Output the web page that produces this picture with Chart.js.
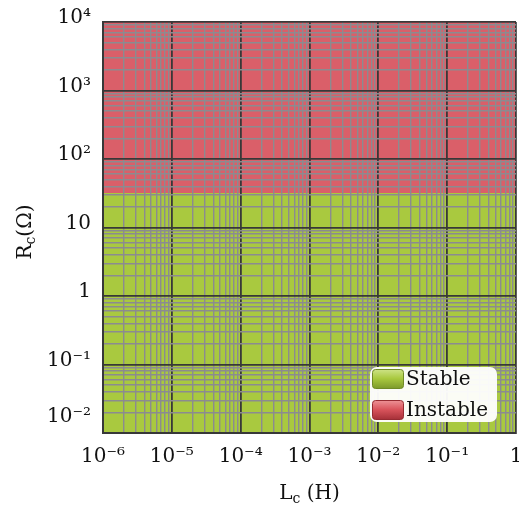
<!DOCTYPE html>
<html lang="en">
<head>
    <meta charset="UTF-8">
    <title>Rc vs Lc - stability</title>
    <script src="https://cdn.jsdelivr.net/npm/chart.js"></script>
    <style>
        body { margin: 0; background: #fff; }
    </style>
</head>
<body>
    <div style="width: 519px; height: 509px;">
        <canvas id="grafico"></canvas>
    </div>

    <script>
        // datos
        const xDecades = [1e-6, 1e-5, 1e-4, 1e-3, 1e-2, 1e-1, 1];
        const xTickLabels = ['10⁻⁶', '10⁻⁵', '10⁻⁴', '10⁻³', '10⁻²', '10⁻¹', '1'];
        const yDecades = [1e-2, 1e-1, 1, 10, 100, 1000, 10000];
        const yTickLabels = ['10⁻²', '10⁻¹', '1', '10', '10²', '10³', '10⁴'];
        const regionLabels = ['Stable', 'Instable'];
        const regionColors = ['#a9c93f', '#da5f69'];
        const xRange = [1e-6, 1];
        const rcLimit = 32;      // frontera estable / inestable
        const rcTop = 10000;

        const FONT = 'DejaVu Serif';

        function logTicks(decades) {
            const out = [];
            for (let i = 0; i < decades.length - 1; i++) {
                for (let k = 1; k <= 9; k++) {
                    out.push({ value: Number((k * decades[i]).toPrecision(12)) });
                }
            }
            out.push({ value: decades[decades.length - 1] });
            return out;
        }

        function isMajor(v) {
            const l = Math.log10(v);
            return Math.abs(l - Math.round(l)) < 1e-9;
        }

        function labelFor(value, decades, labels) {
            const i = decades.findIndex(d => Math.abs(Math.log10(d) - Math.log10(value)) < 1e-9);
            return i >= 0 ? labels[i] : '';
        }

        function gridOpts() {
            return {
                z: 1,
                drawTicks: false,
                color: c => (c.tick && isMajor(c.tick.value)) ? '#383838' : '#8b8b90',
                lineWidth: c => (c.tick && isMajor(c.tick.value)) ? 1.8 : 1.4
            };
        }

        // leyenda y titulos de ejes
        const extras = {
            id: 'extras',
            afterDraw(chart) {
                const ctx = chart.ctx;
                ctx.save();

                // titulos con subindice
                function subTitle(main, sub, rest) {
                    ctx.font = '20px ' + FONT;
                    const w1 = ctx.measureText(main).width;
                    const w3 = ctx.measureText(rest).width;
                    ctx.font = '14px ' + FONT;
                    const w2 = ctx.measureText(sub).width;
                    const total = w1 + w2 + w3;
                    let x = -total / 2;
                    ctx.textBaseline = 'middle';
                    ctx.textAlign = 'left';
                    ctx.fillStyle = '#111';
                    ctx.font = '20px ' + FONT;
                    ctx.fillText(main, x, 0);
                    x += w1;
                    ctx.font = '14px ' + FONT;
                    ctx.fillText(sub, x, 5);
                    x += w2;
                    ctx.font = '20px ' + FONT;
                    ctx.fillText(rest, x, 0);
                }

                const area = chart.chartArea;
                ctx.save();
                ctx.translate((area.left + area.right) / 2, 494);
                subTitle('L', 'c', ' (H)');
                ctx.restore();

                ctx.save();
                ctx.translate(26, 232);
                ctx.rotate(-Math.PI / 2);
                subTitle('R', 'c', '(Ω)');
                ctx.restore();

                // leyenda
                const bx = 370, by = 367, bw = 127, bh = 55;
                ctx.fillStyle = 'rgba(255,255,255,0.95)';
                ctx.beginPath();
                ctx.roundRect(bx, by, bw, bh, 7);
                ctx.fill();

                chart.data.datasets.forEach((ds, i) => {
                    const mx = 372, my = 369 + i * 31, mw = 31, mh = 19;
                    const g = ctx.createLinearGradient(0, my, 0, my + mh);
                    if (i === 0) {
                        g.addColorStop(0, '#cfe48a');
                        g.addColorStop(0.5, '#a9c93f');
                        g.addColorStop(1, '#7f9c2c');
                    } else {
                        g.addColorStop(0, '#ee9599');
                        g.addColorStop(0.5, '#d9545c');
                        g.addColorStop(1, '#a8323a');
                    }
                    ctx.fillStyle = g;
                    ctx.strokeStyle = i === 0 ? '#6f8a26' : '#962b32';
                    ctx.lineWidth = 1;
                    ctx.beginPath();
                    ctx.roundRect(mx + 0.5, my + 0.5, mw, mh, 3);
                    ctx.fill();
                    ctx.stroke();

                    ctx.fillStyle = '#111';
                    ctx.font = '20px ' + FONT;
                    ctx.textAlign = 'left';
                    ctx.textBaseline = 'middle';
                    ctx.fillText(ds.label, 406, my + mh / 2 + 1);
                });

                ctx.restore();
            }
        };

        const ctx = document.getElementById('grafico').getContext('2d');
        const grafico = new Chart(ctx, {
            type: 'line',
            data: {
                datasets: [{
                    label: regionLabels[0],
                    data: [{ x: xRange[0], y: rcLimit }, { x: xRange[1], y: rcLimit }],
                    backgroundColor: regionColors[0],
                    borderWidth: 0,
                    pointRadius: 0,
                    fill: 'start'
                }, {
                    label: regionLabels[1],
                    data: [{ x: xRange[0], y: rcTop }, { x: xRange[1], y: rcTop }],
                    backgroundColor: regionColors[1],
                    borderWidth: 0,
                    pointRadius: 0,
                    fill: '-1'
                }]
            },
            options: {
                responsive: true,
                maintainAspectRatio: false,
                animation: false,
                layout: { padding: { top: 22, right: 3, left: 0, bottom: 0 } },
                plugins: {
                    legend: { display: false },
                    tooltip: { enabled: false }
                },
                scales: {
                    x: {
                        type: 'logarithmic',
                        min: xDecades[0],
                        max: xDecades[xDecades.length - 1],
                        grid: gridOpts(),
                        border: { display: true, color: '#383838', width: 2, z: 2 },
                        afterBuildTicks: s => { s.ticks = logTicks(xDecades); },
                        afterFit: s => { s.height = 76; s.paddingLeft = 0; s.paddingRight = 0; },
                        ticks: {
                            autoSkip: false,
                            maxRotation: 0,
                            padding: 12,
                            color: '#111',
                            font: { family: FONT, size: 20 },
                            callback: v => labelFor(v, xDecades, xTickLabels)
                        }
                    },
                    y: {
                        type: 'logarithmic',
                        min: yDecades[0],
                        max: yDecades[yDecades.length - 1],
                        grid: gridOpts(),
                        border: { display: true, color: '#383838', width: 2, z: 2 },
                        afterBuildTicks: s => { s.ticks = logTicks(yDecades); },
                        afterFit: s => { s.width = 103; s.paddingTop = 0; s.paddingBottom = 0; },
                        ticks: {
                            autoSkip: false,
                            padding: 12,
                            labelOffset: -4,
                            color: '#111',
                            font: { family: FONT, size: 20 },
                            callback: v => {
                                const t = labelFor(v, yDecades, yTickLabels);
                                // la etiqueta inferior va algo mas arriba
                                return v === yDecades[0] ? [t, ''] : t;
                            }
                        }
                    }
                }
            },
            plugins: [extras]
        });
    </script>
</body>
</html>
